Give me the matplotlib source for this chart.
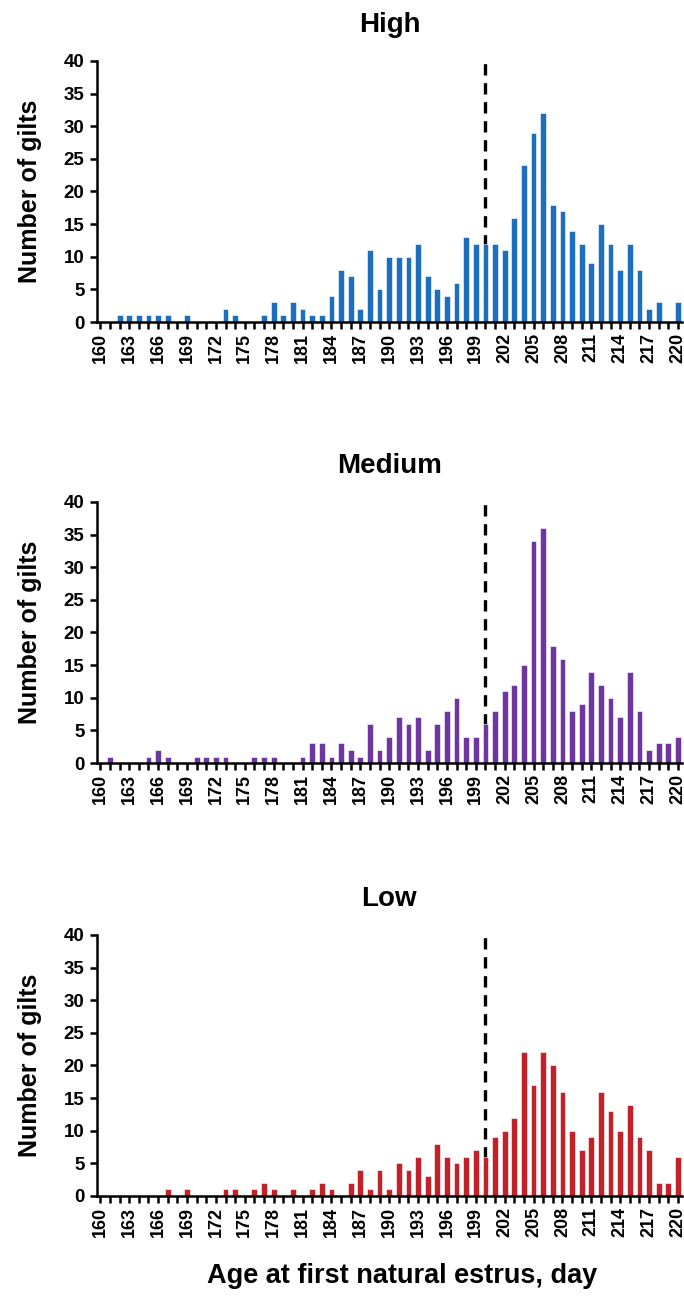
import numpy as np
import matplotlib
matplotlib.use("Agg")
import matplotlib.pyplot as plt

# ---------- data ----------
days = list(range(160, 221))

high = [0, 0, 1, 1, 1, 1, 1, 1, 0, 1,
        0, 0, 0, 2, 1, 0, 0, 1, 3, 1,
        3, 2, 1, 1, 4, 8, 7, 2, 11, 5,
        10, 10, 10, 12, 7, 5, 4, 6, 13, 12,
        12, 12, 11, 16, 24, 29, 32, 18, 17, 14,
        12, 9, 15, 12, 8, 12, 8, 2, 3, 0,
        3]

medium = [0, 1, 0, 0, 0, 1, 2, 1, 0, 0,
          1, 1, 1, 1, 0, 0, 1, 1, 1, 0,
          0, 1, 3, 3, 1, 3, 2, 1, 6, 2,
          4, 7, 6, 7, 2, 6, 8, 10, 4, 4,
          6, 8, 11, 12, 15, 34, 36, 18, 16, 8,
          9, 14, 12, 10, 7, 14, 8, 2, 3, 3,
          4]

low = [0, 0, 0, 0, 0, 0, 0, 1, 0, 1,
       0, 0, 0, 1, 1, 0, 1, 2, 1, 0,
       1, 0, 1, 2, 1, 0, 2, 4, 1, 4,
       1, 5, 4, 6, 3, 8, 6, 5, 6, 7,
       6, 9, 10, 12, 22, 17, 22, 20, 16, 10,
       7, 9, 16, 13, 10, 14, 9, 7, 2, 2,
       6]

titles = ["High", "Medium", "Low"]
colors = ["#1C6EBF", "#6F35A0", "#C22128"]
cutoff_day = 200

# ---------- style ----------
plt.rcParams.update({
    "font.family": ["Liberation Sans", "DejaVu Sans"],
    "font.weight": "bold",
    "axes.linewidth": 1.8,
    "xtick.major.width": 1.8,
    "ytick.major.width": 1.8,
    "xtick.major.size": 5,
    "ytick.major.size": 5,
})

fig = plt.figure(figsize=(6.84, 12.99), dpi=100)

left, width, height = 0.1418, 0.855, 0.201
bottoms = [0.7521, 0.4126, 0.0793]

for vals, title, col, b in zip([high, medium, low], titles, colors, bottoms):
    ax = fig.add_axes([left, b, width, height])
    ax.axvline(cutoff_day, ymin=0, ymax=1, color="black", lw=2.4,
               linestyle=(0, (3.4, 2.3)), zorder=1)
    ax.bar(days, vals, width=0.6, color=col, edgecolor="white",
           linewidth=0.4, zorder=2)

    ax.set_xlim(159.65, 220.4)
    ax.set_ylim(0, 40)
    ax.set_yticks(np.arange(0, 41, 5))
    ax.set_xticks(days)
    ax.set_xticklabels([str(d) if (d - 160) % 3 == 0 else "" for d in days],
                       rotation=90, fontsize=13, fontweight="bold")
    ax.tick_params(axis="y", labelsize=13.5, pad=4)
    ax.tick_params(axis="x", pad=3)
    for lab in ax.get_yticklabels():
        lab.set_fontweight("bold")

    ax.spines["top"].set_visible(False)
    ax.spines["right"].set_visible(False)

    ax.set_ylabel("Number of gilts", fontsize=18, fontweight="bold", labelpad=16)
    ax.set_title(title, fontsize=20, fontweight="bold", pad=21)

fig.text(402 / 684, 1 - 1276 / 1299, "Age at first natural estrus, day",
         ha="center", va="center", fontsize=19.5, fontweight="bold")

fig.savefig("out.png", dpi=100)
plt.close(fig)
